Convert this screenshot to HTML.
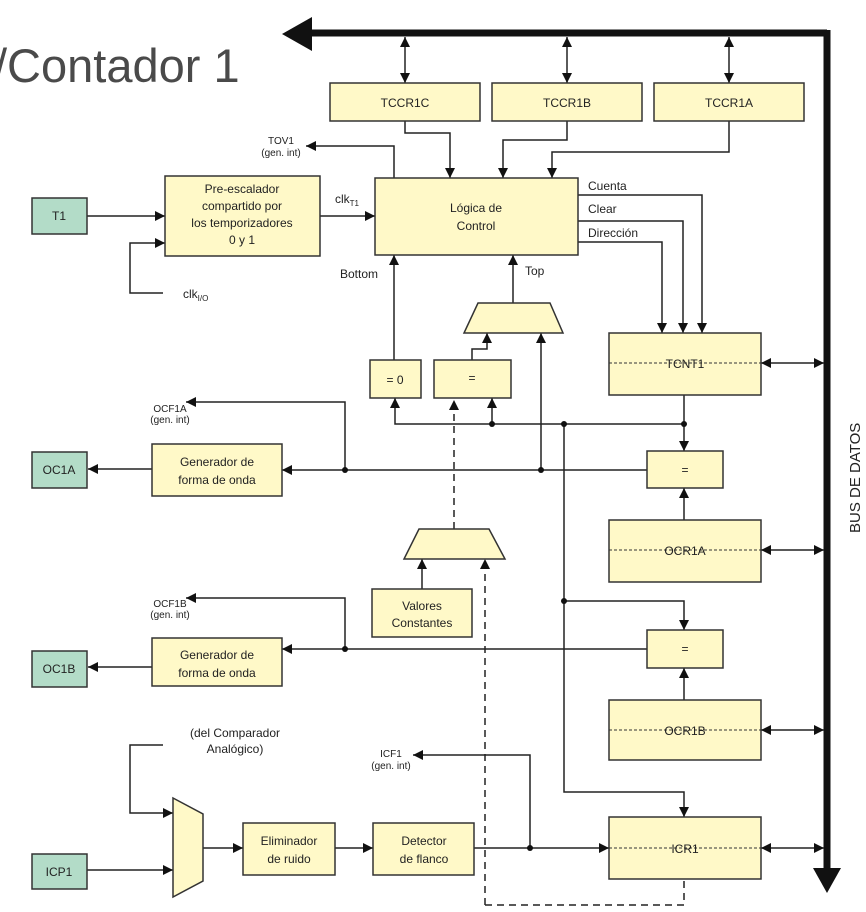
<!DOCTYPE html>
<html><head><meta charset="utf-8"><style>
html,body{margin:0;padding:0;background:#fff;width:866px;height:912px;overflow:hidden}
svg{display:block}
text{font-family:"Liberation Sans",sans-serif;fill:#222}
</style></head><body>
<svg width="866" height="912" viewBox="0 0 866 912" xmlns="http://www.w3.org/2000/svg">
<defs>
<marker id="a" viewBox="0 0 10 10" refX="10" refY="5" markerWidth="10" markerHeight="10" markerUnits="userSpaceOnUse" orient="auto-start-reverse"><path d="M0,0L10,5L0,10z" fill="#111"/></marker>
</defs>
<text x="-6" y="82" font-size="47" style="fill:#4a4a4a">/Contador 1</text>

<!-- bus -->
<path d="M827,33 L306,33" stroke="#111" stroke-width="7" fill="none"/>
<path d="M282,34 L312,17 L312,51z" fill="#111"/>
<path d="M827,30 L827,875" stroke="#111" stroke-width="7"/>
<path d="M813,868 L841,868 L827,893z" fill="#111"/>
<text transform="translate(860,533) rotate(-90)" font-size="15">BUS DE DATOS</text>

<g stroke="#222" stroke-width="1.5" fill="none">
<path d="M405,37 L405,83" marker-start="url(#a)" marker-end="url(#a)"/>
<path d="M567,37 L567,83" marker-start="url(#a)" marker-end="url(#a)"/>
<path d="M729,37 L729,83" marker-start="url(#a)" marker-end="url(#a)"/>
<path d="M405,121 V133 H450 V178" marker-end="url(#a)"/>
<path d="M567,121 V140 H503 V178" marker-end="url(#a)"/>
<path d="M729,121 V152 H552 V178" marker-end="url(#a)"/>
<path d="M394,178 V146 H306" marker-end="url(#a)"/>
<path d="M87,216 H165" marker-end="url(#a)"/>
<path d="M163,293 H130 V243 H165" marker-end="url(#a)"/>
<path d="M320,216 H375" marker-end="url(#a)"/>
<path d="M578,195 H702 V333" marker-end="url(#a)"/>
<path d="M578,221 H683 V333" marker-end="url(#a)"/>
<path d="M578,242 H662 V333" marker-end="url(#a)"/>
<path d="M394,360 V255" marker-end="url(#a)"/>
<path d="M513,303 V255" marker-end="url(#a)"/>
<path d="M472,360 V349 H487 V333" marker-end="url(#a)"/>
<path d="M541,470 V333" marker-end="url(#a)"/>
<path d="M684,424 H395 V398" marker-end="url(#a)"/>
<path d="M492,424 V398" marker-end="url(#a)"/>
<path d="M684,395 V451" marker-end="url(#a)"/>
<path d="M564,424 V792 H684 V817" marker-end="url(#a)"/>
<path d="M564,601 H684 V630" marker-end="url(#a)"/>
<path d="M647,470 H282" marker-end="url(#a)"/>
<path d="M684,520 V488" marker-end="url(#a)"/>
<path d="M345,470 V402 H186" marker-end="url(#a)"/>
<path d="M152,469 H88" marker-end="url(#a)"/>
<path d="M647,649 H282" marker-end="url(#a)"/>
<path d="M684,700 V668" marker-end="url(#a)"/>
<path d="M345,649 V598 H186" marker-end="url(#a)"/>
<path d="M152,667 H88" marker-end="url(#a)"/>
<path d="M422,589 V559" marker-end="url(#a)"/>
<path d="M163,745 H130 V813 H173" marker-end="url(#a)"/>
<path d="M87,870 H173" marker-end="url(#a)"/>
<path d="M203,848 H243" marker-end="url(#a)"/>
<path d="M335,848 H373" marker-end="url(#a)"/>
<path d="M474,848 H609" marker-end="url(#a)"/>
<path d="M530,848 V755 H413" marker-end="url(#a)"/>
<path d="M761,363 H824" marker-start="url(#a)" marker-end="url(#a)"/>
<path d="M761,550 H824" marker-start="url(#a)" marker-end="url(#a)"/>
<path d="M761,730 H824" marker-start="url(#a)" marker-end="url(#a)"/>
<path d="M761,848 H824" marker-start="url(#a)" marker-end="url(#a)"/>
</g>
<g stroke="#222" stroke-width="1.5" fill="none" stroke-dasharray="7,5">
<path d="M454,529 V400" marker-end="url(#a)"/>
<path d="M485,905 V559" marker-end="url(#a)"/>
<path d="M485,905 H684 V879"/>
</g>
<g fill="#111">
<circle cx="492" cy="424" r="3"/><circle cx="564" cy="424" r="3"/><circle cx="684" cy="424" r="3"/>
<circle cx="541" cy="470" r="3"/><circle cx="345" cy="470" r="3"/>
<circle cx="564" cy="601" r="3"/><circle cx="345" cy="649" r="3"/><circle cx="530" cy="848" r="3"/>
</g>

<g fill="#fff9c8" stroke="#333" stroke-width="1.5">
<rect x="330" y="83" width="150" height="38"/>
<rect x="492" y="83" width="150" height="38"/>
<rect x="654" y="83" width="150" height="38"/>
<rect x="375" y="178" width="203" height="77"/>
<rect x="165" y="176" width="155" height="80"/>
<path d="M478,303 H550 L563,333 H464z"/>
<rect x="370" y="360" width="51" height="38"/>
<rect x="434" y="360" width="77" height="38"/>
<rect x="609" y="333" width="152" height="62"/>
<rect x="647" y="451" width="76" height="37"/>
<rect x="609" y="520" width="152" height="62"/>
<rect x="152" y="444" width="130" height="52"/>
<path d="M419,529 H489 L505,559 H404z"/>
<rect x="372" y="589" width="100" height="48"/>
<rect x="647" y="630" width="76" height="38"/>
<rect x="609" y="700" width="152" height="60"/>
<rect x="152" y="638" width="130" height="48"/>
<path d="M173,798 L203,814 V881 L173,897z"/>
<rect x="243" y="823" width="92" height="52"/>
<rect x="373" y="823" width="101" height="52"/>
<rect x="609" y="817" width="152" height="62"/>
</g>
<g fill="#b3dcc8" stroke="#333" stroke-width="1.5">
<rect x="32" y="198" width="55" height="36"/>
<rect x="32" y="452" width="55" height="36"/>
<rect x="32" y="651" width="55" height="36"/>
<rect x="32" y="854" width="55" height="35"/>
</g>
<g stroke="#333" stroke-width="1" stroke-dasharray="3,2">
<path d="M609,363 H761"/><path d="M609,550 H761"/><path d="M609,730 H761"/><path d="M609,848 H761"/>
</g>

<g font-size="12" text-anchor="middle">
<text x="405" y="107">TCCR1C</text><text x="567" y="107">TCCR1B</text><text x="729" y="107">TCCR1A</text>
<text x="476" y="212">Lógica de</text><text x="476" y="230">Control</text>
<text x="242" y="193">Pre-escalador</text><text x="242" y="210">compartido por</text><text x="242" y="227">los temporizadores</text><text x="242" y="244">0 y 1</text>
<text x="59" y="220">T1</text><text x="59" y="474">OC1A</text><text x="59" y="673">OC1B</text><text x="59" y="876">ICP1</text>
<text x="395" y="384">= 0</text><text x="472" y="382">=</text><text x="685" y="474">=</text><text x="685" y="653">=</text>
<text x="685" y="368">TCNT1</text><text x="685" y="555">OCR1A</text><text x="685" y="735">OCR1B</text><text x="685" y="853">ICR1</text>
<text x="217" y="466">Generador de</text><text x="217" y="484">forma de onda</text>
<text x="217" y="659">Generador de</text><text x="217" y="677">forma de onda</text>
<text x="422" y="610">Valores</text><text x="422" y="627">Constantes</text>
<text x="289" y="845">Eliminador</text><text x="289" y="863">de ruido</text>
<text x="424" y="845">Detector</text><text x="424" y="863">de flanco</text>
<text x="235" y="737">(del Comparador</text><text x="235" y="753">Analógico)</text>
</g>
<g font-size="10" text-anchor="middle">
<text x="281" y="144">TOV1</text><text x="281" y="156">(gen. int)</text>
<text x="170" y="412">OCF1A</text><text x="170" y="423">(gen. int)</text>
<text x="170" y="607">OCF1B</text><text x="170" y="618">(gen. int)</text>
<text x="391" y="757">ICF1</text><text x="391" y="769">(gen. int)</text>
</g>
<g font-size="12">
<text x="588" y="190">Cuenta</text><text x="588" y="213">Clear</text><text x="588" y="237">Dirección</text>
<text x="340" y="278">Bottom</text><text x="525" y="275">Top</text>
<text x="335" y="203">clk<tspan font-size="8" dy="3">T1</tspan></text>
<text x="183" y="298">clk<tspan font-size="8" dy="3">I/O</tspan></text>
</g>
</svg>
</body></html>
